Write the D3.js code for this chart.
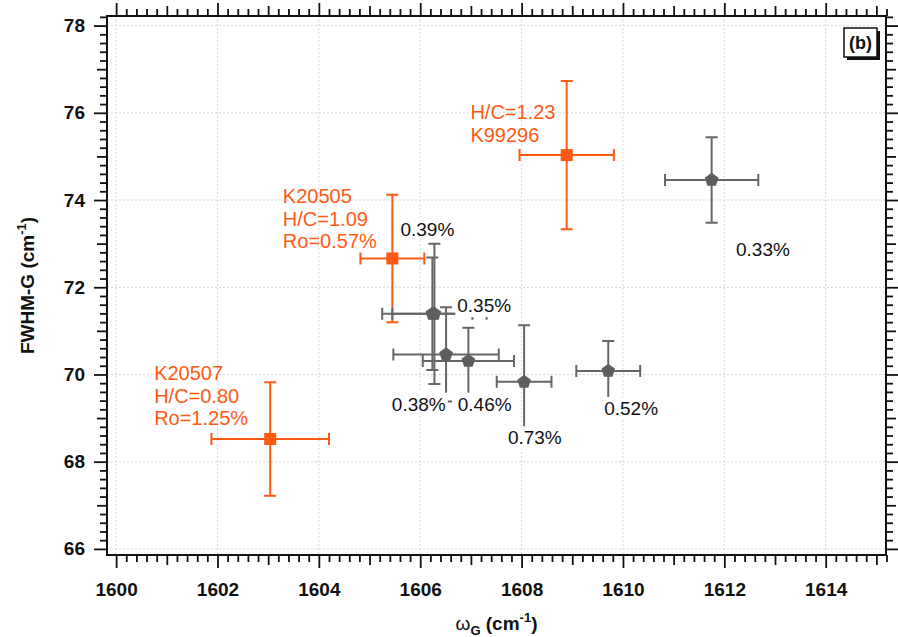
<!DOCTYPE html>
<html lang='en'>
<head>
<meta charset='UTF-8'>
<title>FWHM-G vs omega G</title>
<script src='https://d3js.org/d3.v7.min.js'></script>
<style>
  body { margin: 0; background: #fff; }
  svg { display: block; font-family: 'Liberation Sans', Arial, sans-serif; }
  .tick text { font-size: 19px; font-weight: bold; fill: #111; }
</style>
</head>
<body>
<svg width='898' height='637'></svg>
<script>
// orange samples
const sampleNames = ['K20507', 'K20505', 'K99296']
const sampleX = [1603.04, 1605.45, 1608.89]
const sampleXErr = [1.16, 0.63, 0.93]
const sampleY = [68.52, 72.66, 75.03]
const sampleYErr = [1.30, 1.46, 1.70]
const sampleText = [['K20507', 'H/C=0.80', 'Ro=1.25%'], ['K20505', 'H/C=1.09', 'Ro=0.57%'], ['H/C=1.23', 'K99296']]
const sampleTextAt = [[1600.75, 69.87], [1603.29, 73.93], [1606.99, 75.85]]

// grey points with their percent labels
const ratioLabels = ['0.33%', '0.52%', '0.73%', '0.46%', '0.38%', '0.39%', '0.35%']
const ratioX = [1611.75, 1609.71, 1608.05, 1606.95, 1606.51, 1606.28, 1606.24]
const ratioXErr = [0.92, 0.63, 0.54, 0.90, 1.04, 1.03, 0.79]
const ratioY = [74.46, 70.08, 69.83, 70.31, 70.46, 71.39, 71.39]
const ratioYErr = [0.98, 0.69, 1.30, 0.76, 1.08, 1.61, 1.29]
const ratioTextAt = [[1612.23, 72.72], [1609.63, 69.07], [1607.73, 68.40], [1606.74, 69.17],
                     [1605.44, 69.17], [1605.61, 73.18], [1606.73, 71.43]]

const xTicks = [1600, 1602, 1604, 1606, 1608, 1610, 1612, 1614]
const yTicks = [66, 68, 70, 72, 74, 76, 78]

const orange = '#ff5a14'
const grey = '#666'

const svg = d3.select('svg')
const margin = {top: 16, right: 12, bottom: 82, left: 107}
const width = 898 - margin.left - margin.right
const height = 637 - margin.top - margin.bottom

const x = d3.scaleLinear().domain([1599.82, 1615.19]).range([0, width])
const y = d3.scaleLinear().domain([65.86, 78.22]).range([height, 0])

const g = svg.append('g').attr('transform', `translate(${margin.left},${margin.top})`)

// dotted grid
g.append('g').selectAll('line').data(xTicks).enter().append('line')
  .attr('x1', d => x(d)).attr('x2', d => x(d)).attr('y1', 0).attr('y2', height)
  .attr('stroke', '#d6d6d6').attr('stroke-dasharray', '2,2')
g.append('g').selectAll('line').data(yTicks).enter().append('line')
  .attr('y1', d => y(d)).attr('y2', d => y(d)).attr('x1', 0).attr('x2', width)
  .attr('stroke', '#d6d6d6').attr('stroke-dasharray', '2,2')

function errorBars(sel, color) {
  sel.append('line')
    .attr('x1', d => x(d.x - d.xe)).attr('x2', d => x(d.x + d.xe))
    .attr('y1', d => y(d.y)).attr('y2', d => y(d.y))
  sel.append('line')
    .attr('x1', d => x(d.x)).attr('x2', d => x(d.x))
    .attr('y1', d => y(d.y - d.ye)).attr('y2', d => y(d.y + d.ye))
  // caps
  sel.append('path')
    .attr('d', d => {
      let l = x(d.x - d.xe), r = x(d.x + d.xe), t = y(d.y + d.ye), b = y(d.y - d.ye)
      let cx = x(d.x), cy = y(d.y)
      return `M${l},${cy - 6}V${cy + 6}M${r},${cy - 6}V${cy + 6}` +
             `M${cx - 6},${t}H${cx + 6}M${cx - 6},${b}H${cx + 6}`
    })
  sel.selectAll('line, path').attr('stroke', color).attr('stroke-width', 2).attr('fill', 'none')
}

// orange samples
const samples = sampleNames.map((n, i) => ({
  name: n, x: sampleX[i], xe: sampleXErr[i], y: sampleY[i], ye: sampleYErr[i],
  text: sampleText[i], at: sampleTextAt[i]
}))

const sG = g.append('g').selectAll('g').data(samples).enter().append('g')
errorBars(sG, orange)
sG.append('rect')
  .attr('x', d => x(d.x) - 6).attr('y', d => y(d.y) - 6)
  .attr('width', 12).attr('height', 12).attr('fill', orange)

// grey points
const pentagon = {
  draw(ctx, size) {
    let r = Math.sqrt(size / 2.378)
    for (let k = 0; k < 5; k++) {
      let a = -Math.PI / 2 + k * 2 * Math.PI / 5
      if (k === 0) ctx.moveTo(r * Math.cos(a), r * Math.sin(a))
      else ctx.lineTo(r * Math.cos(a), r * Math.sin(a))
    }
    ctx.closePath()
  }
}

const ratios = ratioLabels.map((l, i) => ({
  label: l, x: ratioX[i], xe: ratioXErr[i], y: ratioY[i], ye: ratioYErr[i], at: ratioTextAt[i]
}))

const rG = g.append('g').selectAll('g').data(ratios).enter().append('g')
errorBars(rG, grey)
rG.append('path')
  .attr('transform', d => `translate(${x(d.x)},${y(d.y)})`)
  .attr('d', d3.symbol().type(pentagon).size(2.378 * 7.2 * 7.2))
  .attr('fill', '#5e5e5e')

// percent labels with white backing
const labG = g.append('g').selectAll('g').data(ratios).enter().append('g')
labG.append('rect').attr('fill', '#fff')
labG.append('text')
  .attr('x', d => x(d.at[0])).attr('y', d => y(d.at[1]))
  .style('font-size', '19px').attr('fill', '#111')
  .text(d => d.label)
labG.each(function() {
  let t = d3.select(this).select('text').node().getBBox()
  d3.select(this).select('rect')
    .attr('x', t.x - 2).attr('y', t.y - 1).attr('width', t.width + 4).attr('height', t.height + 2)
})

// orange sample annotations
g.append('g').selectAll('text').data(samples).enter().append('text')
  .attr('x', d => x(d.at[0])).attr('y', d => y(d.at[1]))
  .style('font-size', '20px').attr('fill', orange)
  .selectAll('tspan').data(d => d.text.map(t => ({t, x0: x(d.at[0])}))).enter().append('tspan')
  .attr('x', d => d.x0).attr('dy', (d, i) => i === 0 ? 0 : 22.6)
  .text(d => d.t)

// axes: major / medium / minor ticks on all four sides
const xMid = d3.range(1601, 1616, 2)
const xMinor = d3.range(0, 77).map(k => 1600 + k / 5).filter((v, k) => k % 5 !== 0)
const yMid = d3.range(67, 78, 2)
const yMinor = d3.range(0, 62).map(k => 66 + k / 5).filter((v, k) => k % 5 !== 0)

function axisSet(make, scale, majors, mids, minors, withLabels, pos) {
  [[majors, 13], [mids, 10], [minors, 7]].forEach(([vals, size], j) => {
    let a = make(scale).tickValues(vals).tickSizeInner(size).tickSizeOuter(0)
    if (j === 0 && withLabels) a.tickPadding(make === d3.axisBottom ? 15 : 9).tickFormat(d3.format('d'))
    else a.tickFormat('')
    let ag = g.append('g').attr('transform', pos).call(a)
    ag.select('.domain').remove()
    ag.selectAll('.tick line').attr('stroke', '#111').attr('stroke-width', 1.8)
  })
}
axisSet(d3.axisBottom, x, xTicks, xMid, xMinor, true, `translate(0,${height})`)
axisSet(d3.axisTop, x, xTicks, xMid, xMinor, false, 'translate(0,0)')
axisSet(d3.axisLeft, y, yTicks, yMid, yMinor, true, 'translate(0,0)')
axisSet(d3.axisRight, y, yTicks, yMid, yMinor, false, `translate(${width},0)`)

g.append('rect').attr('width', width).attr('height', height)
  .attr('fill', 'none').attr('stroke', '#111').attr('stroke-width', 2)

// axis titles
const yt = svg.append('text')
  .attr('transform', `translate(34,${margin.top + height / 2}) rotate(-90)`)
  .attr('text-anchor', 'middle').style('font-size', '19px').style('font-weight', 'bold').attr('fill', '#111')
yt.append('tspan').text('FWHM-G (cm')
yt.append('tspan').attr('dy', -8).style('font-size', '13px').text('-1')
yt.append('tspan').attr('dy', 8).text(')')

const xt = svg.append('text')
  .attr('x', margin.left + width / 2).attr('y', 630)
  .attr('text-anchor', 'middle').style('font-size', '19px').style('font-weight', 'bold').attr('fill', '#111')
xt.append('tspan').style('font-weight', 'normal').text('ω')
xt.append('tspan').attr('dy', 5).style('font-size', '13px').text('G')
xt.append('tspan').attr('dy', -5).text(' (cm')
xt.append('tspan').attr('dy', -8).style('font-size', '13px').text('-1')
xt.append('tspan').attr('dy', 8).text(')')

// panel tag
const tag = svg.append('g').attr('transform', 'translate(844,28)')
tag.append('rect').attr('x', 3).attr('y', 3).attr('width', 33).attr('height', 29).attr('fill', '#111')
tag.append('rect').attr('width', 33).attr('height', 29).attr('fill', '#fff').attr('stroke', '#111').attr('stroke-width', 1.5)
tag.append('text').attr('x', 16.5).attr('y', 21).attr('text-anchor', 'middle')
  .style('font-size', '18px').style('font-weight', 'bold').attr('fill', '#111').text('(b)')
</script>
</body>
</html>
